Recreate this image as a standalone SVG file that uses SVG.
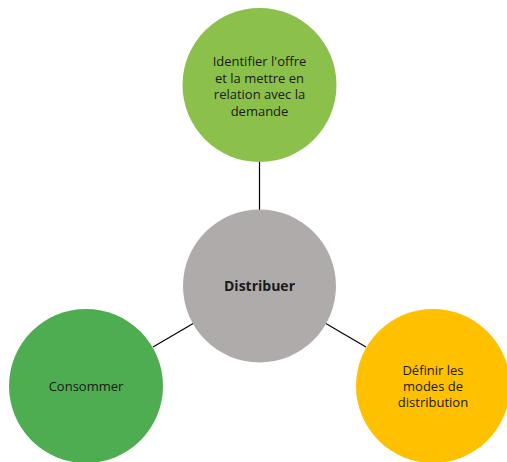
<svg xmlns="http://www.w3.org/2000/svg" width="507" height="462" viewBox="0 0 507 462">
<style>
.lbl{font-family:"Open Sans","Noto Sans",sans-serif;font-size:13px;fill:#1a1a1a;text-anchor:middle}
.bold{font-weight:bold;font-size:14px}
.edge{stroke:#000;stroke-width:1.2;fill:none}
</style>
<rect width="507" height="462" fill="#fff"/>
<g id="connectors">
<line class="edge" x1="259.5" y1="162" x2="259.5" y2="210"/>
<line class="edge" x1="153" y1="347" x2="194" y2="323"/>
<line class="edge" x1="325" y1="323" x2="366" y2="347"/>
</g>
<g id="node-top">
<circle cx="259.5" cy="85" r="77" fill="#8BC04B"/>
<text class="lbl" x="259.5"><tspan x="259.5" y="66">Identifier l'offre</tspan><tspan x="259.5" y="82.5">et la mettre en</tspan><tspan x="259.5" y="99">relation avec la</tspan><tspan x="259.5" y="115.5">demande</tspan></text>
</g>
<g id="node-center">
<circle cx="259.5" cy="286" r="76.5" fill="#AFABAB"/>
<text class="lbl bold" x="259.5" y="291">Distribuer</text>
</g>
<g id="node-left">
<circle cx="86" cy="386" r="77" fill="#4EAD50"/>
<text class="lbl" x="86" y="391">Consommer</text>
</g>
<g id="node-right">
<circle cx="433" cy="386" r="77" fill="#FFC000"/>
<text class="lbl"><tspan x="433" y="375">Définir les</tspan><tspan x="433" y="391">modes de</tspan><tspan x="433" y="407">distribution</tspan></text>
</g>
</svg>
